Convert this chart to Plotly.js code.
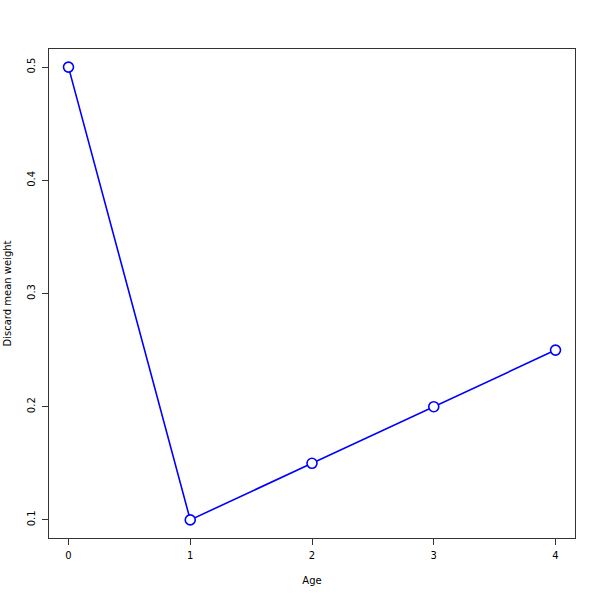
<!DOCTYPE html>
<html><head><meta charset="utf-8">
<script src="https://cdn.plot.ly/plotly-3.0.1.min.js"></script>
<style>body{margin:0;padding:0;background:#fff}#chart{width:600px;height:600px}</style>
</head><body><div id="chart"></div>
<script>
const ages = [0, 1, 2, 3, 4];
const discardMeanWeight = [0.5, 0.1, 0.15, 0.2, 0.25];
const xTicks = [0, 1, 2, 3, 4];
const yTicks = [0.1, 0.2, 0.3, 0.4, 0.5];

const trace = {
  x: ages, y: discardMeanWeight, type: 'scatter', mode: 'lines+markers',
  line: {color: '#0000ff', width: 1.6},
  marker: {symbol: 'circle', size: 10, color: '#ffffff', line: {color: '#0000ff', width: 1.6}},
  cliponaxis: false
};
const axisCommon = {
  showgrid: false, zeroline: false, showline: true, mirror: true,
  linecolor: '#333', linewidth: 1, ticks: 'outside', ticklen: 6, tickcolor: '#333',
  tickfont: {family: 'DejaVu Sans', size: 10, color: '#000'}
};
const layout = {
  width: 600, height: 600,
  margin: {l: 49, r: 25, t: 49, b: 62},
  paper_bgcolor: '#fff', plot_bgcolor: '#fff',
  showlegend: false,
  font: {family: 'DejaVu Sans', size: 10, color: '#000'},
  xaxis: Object.assign({}, axisCommon, {
    range: [-0.16, 4.16], tickvals: xTicks, ticktext: xTicks.map(String),
    ticklabelstandoff: 2,
    title: {text: 'Age', font: {family: 'DejaVu Sans', size: 10}, standoff: 16}
  }),
  yaxis: Object.assign({}, axisCommon, {
    range: [0.084, 0.516], tickvals: yTicks, ticktext: yTicks.map(v => v.toFixed(1)),
    tickangle: -90, ticklabelstandoff: 3,
    title: {text: 'Discard mean weight', font: {family: 'DejaVu Sans', size: 10}, standoff: 12}
  })
};
Plotly.newPlot('chart', [trace], layout, {displayModeBar: false, staticPlot: true});
</script></body></html>
